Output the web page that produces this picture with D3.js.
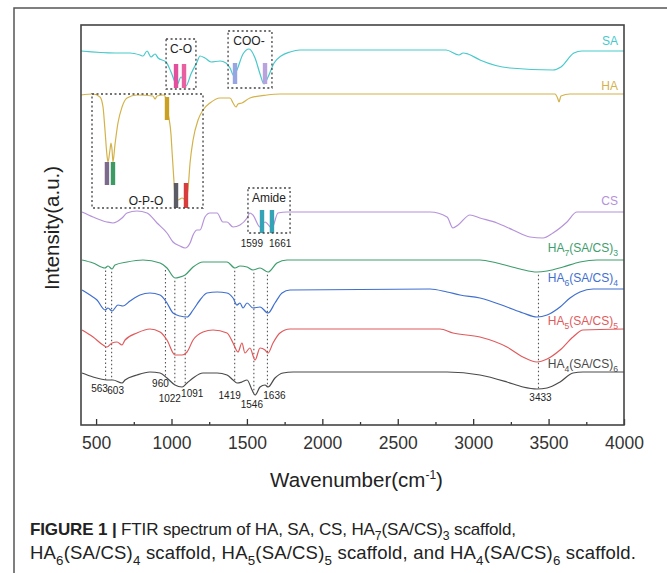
<!DOCTYPE html>
<html>
<head>
<meta charset="utf-8">
<script src="https://cdn.jsdelivr.net/npm/d3@7"></script>
<style>
  body { margin: 0; background: #fff; }
  text { font-family: "Liberation Sans", Arial, sans-serif; }
</style>
</head>
<body>
<div id="chart"></div>
<script>
// spectra: [wavenumber (cm-1), intensity (a.u., stacked)]
const SA = [[400,93.5],[625,93],[725,93],[791,92.5],[811,92.25],[838,93.5],[864,92],[891,92.75],[911,91.75],[964,90.75],[997,88.25],[1036,85],[1063,87],[1096,84.75],[1129,87.75],[1169,90.75],[1189,92.25],[1222,91.75],[1262,90.75],[1322,91],[1361,90.5],[1388,89.25],[1414,87.25],[1434,88.75],[1474,92.75],[1514,94],[1554,91.75],[1587,87.75],[1613,85.25],[1640,87],[1680,90.5],[1726,92.25],[1786,93.25],[1852,93.75],[2820,93.75],[2906,92.5],[2933,93],[2966,92.75],[3045,91.25],[3244,89.25],[3529,88.75],[3582,89.5],[3668,93],[3721,93.5],[4000,93.5]];
const HA = [[400,82.5],[480,82.75],[526,82],[546,79.5],[559,73.75],[572,67.5],[579,65.75],[592,68.75],[599,70.5],[606,68.75],[612,65.75],[625,70],[645,75.5],[672,79.5],[705,81.75],[771,82.5],[877,82.25],[891,81.5],[904,82.25],[950,82.5],[964,81.25],[970,78.75],[983,76.75],[997,72.5],[1003,68.75],[1017,60.5],[1023,57.5],[1043,56.25],[1070,56.75],[1096,56.25],[1109,58.75],[1123,65.5],[1143,71.25],[1176,76.25],[1209,78.75],[1255,80.5],[1322,81.75],[1388,81.75],[1408,80.5],[1428,79.5],[1441,80.25],[1467,80.5],[1520,81.75],[1633,82.5],[1719,82.75],[3178,82.75],[3542,82.75],[3562,81.5],[3569,80.75],[3582,82.25],[3642,82.75],[4000,82.75]];
const CS = [[407,53.25],[480,52],[572,50.75],[612,50.5],[672,51.75],[705,53],[771,53.5],[838,53],[904,50.5],[970,48],[1010,45.75],[1056,44.75],[1090,44.25],[1123,45.5],[1143,47.5],[1169,48.75],[1189,48.75],[1222,52],[1255,53],[1302,53],[1341,50.75],[1368,50.75],[1408,49.5],[1454,50],[1501,51.75],[1520,53],[1540,52.5],[1587,49.5],[1620,50.75],[1666,49.25],[1706,53],[1766,53.25],[2714,53.25],[2827,52],[2866,49.25],[2900,50],[2979,52.5],[3045,51.75],[3158,50.5],[3264,48.75],[3377,47],[3463,46.75],[3529,48],[3622,50.75],[3688,53.25],[4000,53.25]];
const HA7 = [[407,41.25],[480,40.5],[559,39.25],[579,39.75],[606,39],[625,40],[705,40.75],[811,41.25],[924,40.5],[970,39.25],[1023,36.75],[1056,37],[1090,37.5],[1143,39.5],[1209,40.75],[1368,40.75],[1421,39.25],[1454,39.75],[1501,39.5],[1540,38.75],[1587,39.25],[1640,38.25],[1699,40.5],[1766,41.25],[3045,41.25],[3158,40.5],[3311,39],[3423,38.25],[3490,38.5],[3596,39.5],[3708,40.75],[3821,41.25],[4000,41.25]];
const HA6 = [[407,33.75],[460,32.5],[506,31.25],[559,28.75],[579,29.25],[606,28.5],[645,30],[678,29.75],[725,31],[791,32.5],[857,33],[924,32.5],[970,30.5],[1010,28],[1056,27.25],[1103,27],[1143,28.75],[1189,31.25],[1235,33],[1302,33.25],[1368,33],[1408,31.75],[1434,30],[1454,30.5],[1474,29.25],[1501,30.5],[1540,29.25],[1587,29.5],[1640,28],[1686,30.5],[1733,33],[1786,33.75],[2714,34],[2827,33.25],[2913,32.5],[3045,31.75],[3224,29.5],[3330,28],[3423,27],[3490,27.5],[3576,29.5],[3642,31.75],[3708,33.25],[3795,34],[4000,34]];
const HA5 = [[407,23.75],[480,22],[546,20],[572,19.5],[606,20.5],[639,20.75],[672,20],[692,21.25],[771,23],[857,24],[924,23.25],[970,21.25],[1023,17.5],[1070,17.5],[1103,18.25],[1143,21.25],[1209,23.25],[1275,23.75],[1368,23],[1408,20.5],[1441,18.25],[1467,20.5],[1487,18],[1520,19.25],[1554,16.25],[1587,19.25],[1620,18.75],[1640,18],[1673,20.5],[1719,23],[1786,24],[2780,24],[2866,23],[3045,22],[3224,19.5],[3330,17],[3423,15.75],[3490,16.5],[3576,18.75],[3662,22],[3728,23.75],[4000,24]];
const HA4 = [[407,13],[480,12],[572,11.25],[612,11.25],[672,10.5],[692,11.25],[771,12.5],[857,13.25],[924,13],[970,11.75],[1023,10],[1070,9.5],[1103,10.5],[1143,11.75],[1209,13],[1302,13],[1368,12.5],[1408,11.25],[1434,10.5],[1467,10.75],[1501,11.25],[1534,8.75],[1554,7.5],[1587,9.5],[1620,10],[1640,9.5],[1686,11.75],[1739,13],[1806,13.25],[2827,13.25],[3045,12.5],[3224,10.75],[3330,9.5],[3423,9],[3490,9.25],[3576,10.75],[3662,13],[3728,13.25],[4000,13.25]];

const seriesNames = ["SA", "HA", "CS", "HA{7}(SA/CS){3}", "HA{6}(SA/CS){4}", "HA{5}(SA/CS){5}", "HA{4}(SA/CS){6}"];
const seriesData = [SA, HA, CS, HA7, HA6, HA5, HA4];
const seriesColors = ["#48c9cb", "#d4b24a", "#b592da", "#3e9d6d", "#3f6fcf", "#e05a5c", "#4a4a4a"];

// marked peaks on the composite scaffolds
const peaks = [563, 603, 960, 1022, 1091, 1419, 1546, 1636, 3433];
// amide peaks of CS
const amidePeaks = [1599, 1661];

// highlight boxes: [label, wn from, wn to, a.u. top, a.u. bottom]
const boxes = [
  ["C-O", 964, 1162, 96.5, 84],
  ["COO-", 1375, 1666, 98.5, 84.25],
  ["O-P-O", 473, 1209, 82.75, 54.25],
  ["Amide", 1507, 1786, 59.25, 48]
];
// coloured band markers: [wn, a.u. top, a.u. bottom, colour]
const bands = [
  [1030, 90.25, 84.25, "#e24f9c"], [1083, 90.25, 84.25, "#e8609f"],
  [1421, 90.5, 85.25, "#97a6e2"], [1620, 90.5, 85.25, "#b8a3de"],
  [970, 82, 76.25, "#c9a024"],
  [572, 65.75, 60, "#7b6a8c"], [612, 65.75, 60, "#3d9a62"],
  [1030, 60.5, 54.25, "#5c5c66"], [1096, 60.5, 54.25, "#d83c3c"],
  [1600, 53.75, 48, "#33a3b5"], [1666, 53.75, 48, "#33a3b5"]
];

const xMajor = [500, 1000, 1500, 2000, 2500, 3000, 3500, 4000];
const xMinor = [750, 1250, 1750, 2250, 2750, 3250, 3750];

const W = 667, H = 573;
const margin = { top: 25, right: 43, bottom: 148, left: 81 },
  width = W - margin.left - margin.right,
  height = H - margin.top - margin.bottom;

const svg = d3.select("#chart").append("svg")
  .attr("width", W).attr("height", H);

// outer figure frame (left + top)
svg.append("path")
  .attr("d", `M14,${H} V8 H${W}`)
  .attr("fill", "none").attr("stroke", "#555").attr("stroke-width", 1.5);

const g = svg.append("g").attr("transform", `translate(${margin.left},${margin.top})`);

const x = d3.scaleLinear().domain([400, 4000]).range([0, width]);
const y = d3.scaleLinear().domain([0, 100]).range([height, 0]);

function rich(sel, s, fs) {
  const parts = s.split(/(\{[^}]*\})/).filter(p => p);
  let shifted = false;
  parts.forEach(p => {
    const isSub = p[0] === "{";
    const t = sel.append("tspan").text(isSub ? p.slice(1, -1) : p);
    if (isSub) { t.attr("font-size", fs * 0.72).attr("dy", fs * 0.3); shifted = true; }
    else if (shifted) { t.attr("dy", -fs * 0.3); shifted = false; }
  });
}

function valueAt(data, wn) {
  const i = d3.bisector(d => d[0]).left(data, wn);
  if (i <= 0) return data[0][1];
  const a = data[i - 1], b = data[i];
  return a[1] + (b[1] - a[1]) * (wn - a[0]) / (b[0] - a[0]);
}

// axis ticks (inside)
g.append("g").attr("transform", `translate(0,${height})`)
  .call(d3.axisBottom(x).tickValues(xMajor).tickSize(-6).tickPadding(12).tickFormat(d3.format("d")))
  .call(a => a.select(".domain").remove())
  .call(a => a.selectAll("line").attr("stroke", "#333").attr("stroke-width", 1.3))
  .call(a => a.selectAll("text").attr("font-size", 17.5).attr("fill", "#333")
    .attr("font-family", "Liberation Sans, Arial, sans-serif"));
g.append("g").attr("transform", `translate(0,${height})`)
  .call(d3.axisBottom(x).tickValues(xMinor).tickSize(-3).tickFormat(""))
  .call(a => a.select(".domain").remove())
  .call(a => a.selectAll("line").attr("stroke", "#333").attr("stroke-width", 1.3));

// dotted peak guides from HA7 down to HA4
g.append("g").selectAll("line").data(peaks).join("line")
  .attr("x1", d => x(d)).attr("x2", d => x(d))
  .attr("y1", d => y(valueAt(HA7, d)) + 3)
  .attr("y2", d => y(valueAt(HA4, d)))
  .attr("stroke", "#555").attr("stroke-width", 1.1).attr("stroke-dasharray", "1.5,2.5");

// spectra
const line = d3.line().x(d => x(d[0])).y(d => y(d[1])).curve(d3.curveMonotoneX);
g.append("g").selectAll("path").data(seriesData).join("path")
  .attr("d", line)
  .attr("fill", "none")
  .attr("stroke", (d, i) => seriesColors[i])
  .attr("stroke-width", 1.2);

// band markers
g.append("g").selectAll("rect").data(bands).join("rect")
  .attr("x", d => x(d[0]) - 2.2).attr("width", 4.4)
  .attr("y", d => y(d[1])).attr("height", d => y(d[2]) - y(d[1]))
  .attr("fill", d => d[3]);

// dotted boxes
g.append("g").selectAll("rect").data(boxes).join("rect")
  .attr("x", d => x(d[1])).attr("width", d => x(d[2]) - x(d[1]))
  .attr("y", d => y(d[3])).attr("height", d => y(d[4]) - y(d[3]))
  .attr("fill", "none").attr("stroke", "#444").attr("stroke-width", 1.3)
  .attr("stroke-dasharray", "2,2.5");

// box labels
const boxLabelPos = [[1063, 93], [1514, 95], [831, 55], [1646, 55.75]];
g.append("g").selectAll("text").data(boxes).join("text")
  .attr("x", (d, i) => x(boxLabelPos[i][0]))
  .attr("y", (d, i) => y(boxLabelPos[i][1]))
  .attr("text-anchor", "middle").attr("font-size", 12).attr("fill", "#222")
  .text(d => d[0]);

// amide peak numbers
g.append("g").selectAll("text").data(amidePeaks).join("text")
  .attr("x", (d, i) => x(d) + (i === 0 ? -10 : 9))
  .attr("y", y(44.5))
  .attr("text-anchor", "middle").attr("font-size", 10).attr("fill", "#222")
  .text(d => d);

// peak numbers: offset dx (px) and baseline (a.u.)
const peakLabelPos = [[-6, 8.25], [4, 7.75], [-5, 9.5], [-5, 5.75], [7, 7], [-5, 6.5], [-2, 4.25], [7, 6.5], [2, 6]];
g.append("g").selectAll("text").data(peaks).join("text")
  .attr("x", (d, i) => x(d) + peakLabelPos[i][0])
  .attr("y", (d, i) => y(peakLabelPos[i][1]))
  .attr("text-anchor", "middle").attr("font-size", 10).attr("fill", "#222")
  .text(d => d);

// series labels at the right
const labelLevels = [95, 83.75, 55, 43.25, 35.75, 25, 14.25];
g.append("g").selectAll("text").data(seriesNames).join("text")
  .attr("x", width - 6).attr("y", (d, i) => y(labelLevels[i]))
  .attr("text-anchor", "end").attr("font-size", 12)
  .attr("fill", (d, i) => seriesColors[i])
  .each(function (d) { rich(d3.select(this), d, 12); });

// plot frame
g.append("rect").attr("width", width).attr("height", height)
  .attr("fill", "none").attr("stroke", "#444").attr("stroke-width", 1.6);

// axis titles
const xt = g.append("text").attr("x", width / 2 + 4).attr("y", height + 62)
  .attr("text-anchor", "middle").attr("font-size", 20.5).attr("fill", "#222");
xt.append("tspan").text("Wavenumber(cm");
xt.append("tspan").attr("font-size", 12).attr("dy", -8).text("-1");
xt.append("tspan").attr("dy", 8).text(")");

g.append("text")
  .attr("transform", `translate(-22,${height / 2 + 3}) rotate(-90)`)
  .attr("text-anchor", "middle").attr("font-size", 20.5).attr("fill", "#222")
  .text("Intensity(a.u.)");

// caption
const cap1 = svg.append("text").attr("x", 30).attr("y", 535).attr("font-size", 17).attr("fill", "#222")
  .attr("textLength", 486).attr("lengthAdjust", "spacing");
cap1.append("tspan").attr("font-weight", "bold").text("FIGURE 1 |");
rich(cap1, " FTIR spectrum of HA, SA, CS, HA{7}(SA/CS){3} scaffold,", 17);
const cap2 = svg.append("text").attr("x", 30).attr("y", 559).attr("font-size", 18.5).attr("fill", "#222")
  .attr("textLength", 606).attr("lengthAdjust", "spacing");
rich(cap2, "HA{6}(SA/CS){4} scaffold, HA{5}(SA/CS){5} scaffold, and HA{4}(SA/CS){6} scaffold.", 18.5);
</script>
</body>
</html>
